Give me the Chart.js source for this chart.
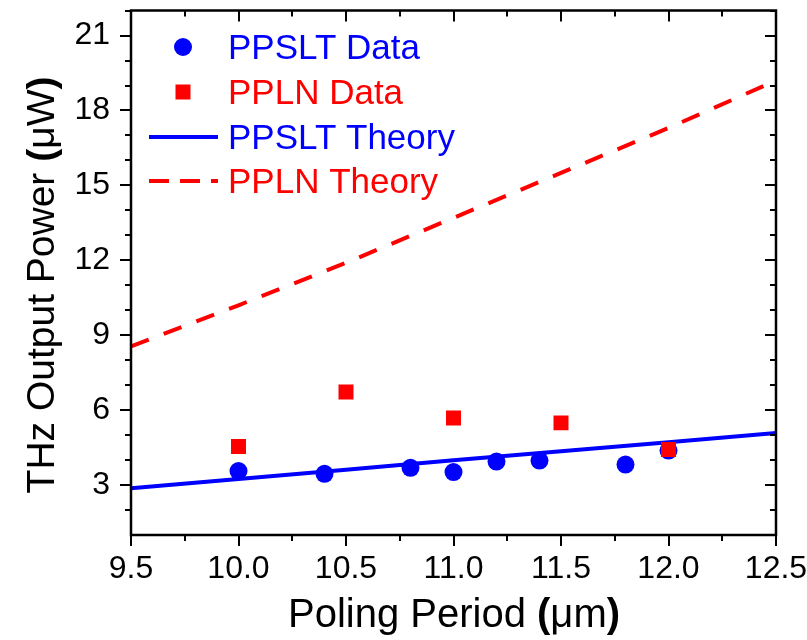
<!DOCTYPE html>
<html>
<head>
<meta charset="utf-8">
<script src="https://cdn.jsdelivr.net/npm/chart.js@4/dist/chart.umd.min.js"></script>
<style>
  body { margin: 0; background: #fff; }
  #wrap { width: 807px; height: 640px; position: relative; }
</style>
</head>
<body>
<div id="wrap"><canvas id="thz-chart"></canvas></div>
<script>
// measured data
const ppsltX = [10.0, 10.4, 10.8, 11.0, 11.2, 11.4, 11.8, 12.0];
const ppsltY = [3.56, 3.45, 3.69, 3.52, 3.94, 3.98, 3.82, 4.38];
const pplnX = [10.0, 10.5, 11.0, 11.5, 12.0];
const pplnY = [4.54, 6.73, 5.69, 5.49, 4.42];

// theory curves
const theoryX = [9.5, 10.0, 10.5, 11.0, 11.5, 12.0, 12.5];
const ppsltTheory = [2.87, 3.24, 3.61, 3.99, 4.35, 4.71, 5.08];
const pplnTheory = [8.55, 10.2, 11.9, 13.7, 15.5, 17.3, 19.2];

const xTicks = [9.5, 10.0, 10.5, 11.0, 11.5, 12.0, 12.5];
const yTicks = [3, 6, 9, 12, 15, 18, 21];

const FONT = "'Liberation Sans', Arial, sans-serif";
const BLUE = '#0000ff', RED = '#ff0000';

function pts(xs, ys) {
    return xs.map((x, i) => ({ x, y: ys[i] }));
}

// frame + tick marks (out on bottom/left, in on top/right)
const frame = {
    id: 'frame',
    afterDraw(chart) {
        const { ctx, chartArea: a, scales: { x, y } } = chart;
        ctx.save();
        ctx.setLineDash([]);
        ctx.strokeStyle = '#000000';
        ctx.lineWidth = 2.5;
        ctx.lineCap = 'square';
        ctx.beginPath();
        ctx.moveTo(a.left, a.top);
        ctx.lineTo(a.right, a.top);
        ctx.lineTo(a.right, a.bottom);
        ctx.lineTo(a.left, a.bottom);
        ctx.closePath();
        ctx.stroke();
        ctx.lineWidth = 2;
        ctx.lineCap = 'butt';
        ctx.beginPath();
        for (let v = 9.5; v <= 12.5001; v += 0.25) {
            const px = Math.round(x.getPixelForValue(v));
            const len = Math.abs(v * 2 - Math.round(v * 2)) < 1e-6 ? 11 : 6;
            ctx.moveTo(px, a.bottom); ctx.lineTo(px, a.bottom + len);
            ctx.moveTo(px, a.top); ctx.lineTo(px, a.top + len);
        }
        for (let v = 2; v <= 22; v++) {
            const py = Math.round(y.getPixelForValue(v));
            const len = v % 3 === 0 ? 11 : 6;
            ctx.moveTo(a.left, py); ctx.lineTo(a.left - len, py);
            ctx.moveTo(a.right, py); ctx.lineTo(a.right - len, py);
        }
        ctx.stroke();
        ctx.restore();
    }
};

// axis titles with bold brackets
function drawParts(ctx, parts, size) {
    let total = 0;
    parts.forEach(p => {
        ctx.font = (p.bold ? 'bold ' : '') + size + 'px ' + FONT;
        p.w = ctx.measureText(p.t).width;
        total += p.w;
    });
    let cx = -total / 2;
    parts.forEach(p => {
        ctx.font = (p.bold ? 'bold ' : '') + size + 'px ' + FONT;
        ctx.fillText(p.t, cx, 0);
        cx += p.w;
    });
}

const titles = {
    id: 'titles',
    afterDraw(chart) {
        const ctx = chart.ctx;
        ctx.save();
        ctx.fillStyle = '#000';
        ctx.textBaseline = 'alphabetic';
        ctx.textAlign = 'left';
        ctx.save();
        ctx.translate(454, 627);
        drawParts(ctx, [{ t: 'Poling Period ' }, { t: '(', bold: true }, { t: 'μm' }, { t: ')', bold: true }], 40);
        ctx.restore();
        ctx.save();
        ctx.translate(54, 285);
        ctx.rotate(-Math.PI / 2);
        drawParts(ctx, [{ t: 'THz Output Power ' }, { t: '(', bold: true }, { t: 'μW' }, { t: ')', bold: true }], 39);
        ctx.restore();
        ctx.restore();
    }
};

// legend in the top-left corner
const legendBox = {
    id: 'legendBox',
    afterDraw(chart) {
        const ctx = chart.ctx;
        const rows = [47, 92, 137, 181];
        ctx.save();
        ctx.font = '35px ' + FONT;
        ctx.textBaseline = 'middle';
        chart.data.datasets.forEach((ds, i) => {
            const y = rows[i];
            ctx.fillStyle = ds.borderColor;
            ctx.strokeStyle = ds.borderColor;
            if (ds.showLine === false) {
                ctx.beginPath();
                if (ds.pointStyle === 'rect') {
                    ctx.rect(183 - 7.5, y - 7.5, 15, 15);
                } else {
                    ctx.arc(183, y, 9, 0, Math.PI * 2);
                }
                ctx.fill();
            } else {
                ctx.lineWidth = ds.borderWidth;
                ctx.setLineDash(ds.borderDash ? [20, 11] : []);
                ctx.beginPath();
                ctx.moveTo(149, y); ctx.lineTo(218, y);
                ctx.stroke();
                ctx.setLineDash([]);
            }
            ctx.fillText(ds.label, 228, y + 2);
        });
        ctx.restore();
    }
};

new Chart(document.getElementById('thz-chart'), {
    type: 'scatter',
    data: {
        datasets: [{
            label: 'PPSLT Data',
            data: pts(ppsltX, ppsltY),
            showLine: false,
            pointStyle: 'circle',
            pointRadius: 9,
            borderColor: BLUE,
            backgroundColor: BLUE,
            borderWidth: 0,
            order: 1
        }, {
            label: 'PPLN Data',
            data: pts(pplnX, pplnY),
            showLine: false,
            pointStyle: 'rect',
            pointRadius: 10.6,
            borderColor: RED,
            backgroundColor: RED,
            borderWidth: 0,
            order: 0
        }, {
            label: 'PPSLT Theory',
            data: pts(theoryX, ppsltTheory),
            showLine: true,
            pointRadius: 0,
            borderColor: BLUE,
            borderWidth: 4,
            order: 2
        }, {
            label: 'PPLN Theory',
            data: pts(theoryX, pplnTheory),
            showLine: true,
            pointRadius: 0,
            borderColor: RED,
            borderWidth: 4,
            borderDash: [19, 16],
            order: 3
        }]
    },
    options: {
        responsive: true,
        maintainAspectRatio: false,
        animation: false,
        layout: { padding: { top: 7, right: 31, left: 0, bottom: 0 } },
        plugins: { legend: { display: false }, tooltip: { enabled: false } },
        scales: {
            x: {
                type: 'linear',
                min: 9.5,
                max: 12.5,
                afterBuildTicks: s => { s.ticks = xTicks.map(value => ({ value })); },
                afterFit: s => { s.height = 105; s.paddingLeft = 0; s.paddingRight = 0; },
                grid: { display: false, drawTicks: false },
                border: { display: false },
                ticks: {
                    color: '#000',
                    padding: 15,
                    maxRotation: 0,
                    font: { family: FONT, size: 32 },
                    callback: v => v.toFixed(1)
                }
            },
            y: {
                min: 1,
                max: 22,
                afterBuildTicks: s => { s.ticks = yTicks.map(value => ({ value })); },
                afterFit: s => { s.width = 131; s.paddingTop = 0; s.paddingBottom = 0; },
                grid: { display: false, drawTicks: false },
                border: { display: false },
                ticks: {
                    color: '#000',
                    padding: 21,
                    font: { family: FONT, size: 32 }
                }
            }
        }
    },
    plugins: [frame, titles, legendBox]
});
</script>
</body>
</html>
